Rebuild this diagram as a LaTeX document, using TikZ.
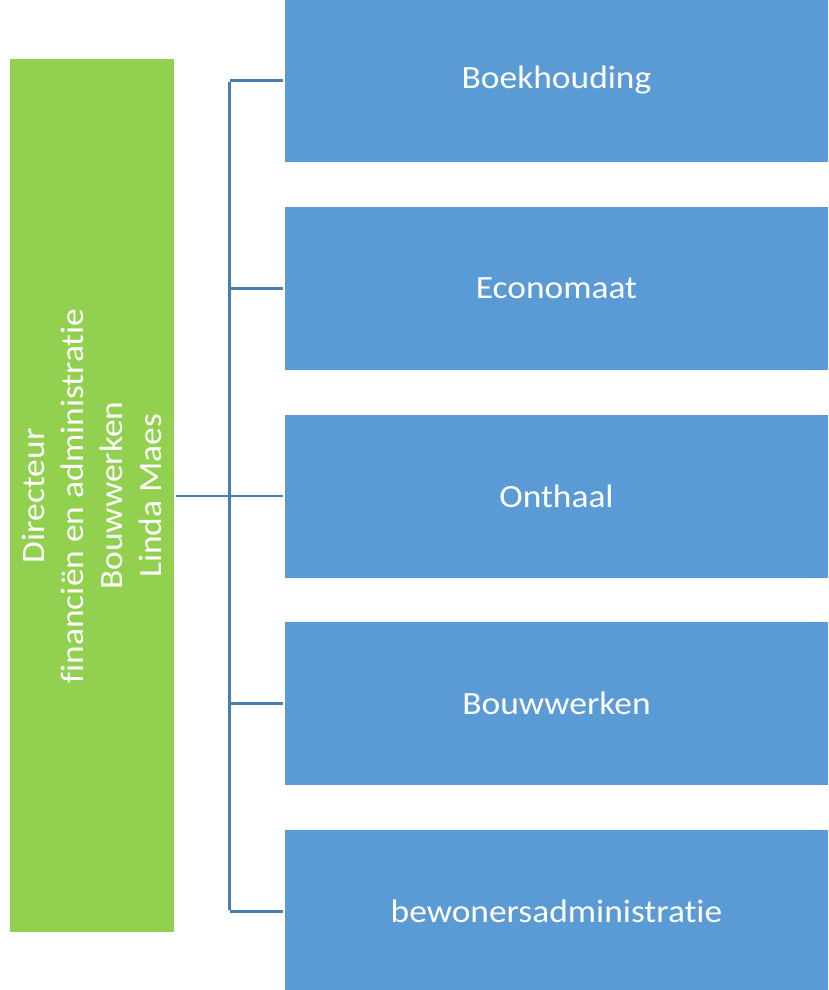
\documentclass[tikz,border=0pt]{standalone}
\usepackage{fontspec}
\setmainfont{Carlito}[FakeStretch=1.09, Ligatures=NoCommon]
\definecolor{greenbox}{HTML}{92D050}
\definecolor{bluebox}{HTML}{5B9BD5}
\definecolor{conn}{HTML}{4A7EB0}
\begin{document}
\begin{tikzpicture}[x=1pt,y=-1pt,
  unitbox/.style={fill=bluebox, draw=none, minimum width=543pt, minimum height=163pt, inner sep=0pt, text=white, font=\fontsize{32.5}{39}\selectfont},
  link/.style={draw=conn, line width=2.5pt}]
\useasboundingbox (0,0) rectangle (828,990);
\clip (0,0) rectangle (828,990);
\node[fill=greenbox, draw=none, minimum width=164pt, minimum height=872.5pt, inner sep=0pt] (green) at (92,495.75) {};
\node[rotate=90, text=white, align=center, font=\fontsize{32.5}{39}\selectfont] (gtext) at (green.center) {Directeur\\financiën en administratie\\Bouwwerken\\Linda Maes};
\node[unitbox] (b0) at (556.5,80.5) {Boekhouding};
\node[unitbox] (b1) at (556.5,288.5) {Economaat};
\node[unitbox] (b2) at (556.5,496) {Onthaal};
\node[unitbox] (b3) at (556.5,703.5) {Bouwwerken};
\node[unitbox] (b4) at (556.5,911.5) {bewonersadministratie};
\coordinate (tk) at (229.5,0);
\draw[link, shorten >=2pt] (b0.west -| tk) -- (b0.west);
\draw[link, shorten >=2pt] (b4.west -| tk) -- (b4.west);
\draw[link] ([yshift=-1.25pt]b0.west -| tk) -- ([yshift=1.25pt]b4.west -| tk);
\draw[link, shorten >=2pt] (b1.west -| tk) -- (b1.west);
\draw[link, shorten >=2pt] (b3.west -| tk) -- (b3.west);
\draw[link, shorten <=2pt, shorten >=2pt] (green.east |- b2.west) -- (b2.west);
\end{tikzpicture}
\end{document}
